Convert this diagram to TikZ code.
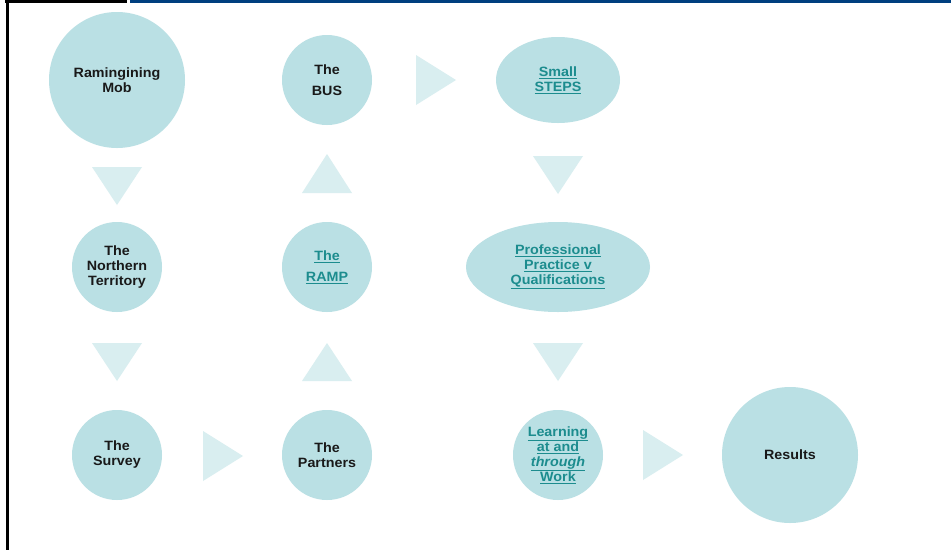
\documentclass[tikz,border=0pt]{standalone}
\usepackage{fontspec}
\setmainfont{Liberation Sans}[FakeStretch=1.06]
\usetikzlibrary{shapes.geometric}
\definecolor{circ}{RGB}{186,224,228}
\definecolor{tri}{RGB}{217,238,240}
\definecolor{linkc}{RGB}{28,140,142}
\definecolor{topblue}{RGB}{0,63,127}
\begin{document}
\begin{tikzpicture}[x=1pt,y=-1pt,
  bubble/.style={circle,fill=circ,inner sep=0pt,align=center,
    font=\fontsize{13.5}{15}\selectfont\bfseries,text=black!90},
  oval/.style={ellipse,fill=circ,inner sep=0pt,align=center,
    font=\fontsize{13.5}{15}\selectfont\bfseries},
  link/.style={text=linkc},
  arrowtri/.style={fill=tri}]
\useasboundingbox (0,0) rectangle (951,550);
\fill[white] (0,0) rectangle (951,550);
% frame lines
\fill[black] (5,0) rectangle (127,3);
\fill[topblue] (130,0) rectangle (951,3);
\fill[black] (6,0) rectangle (9,550);
% nodes
\node[bubble,minimum size=136] (mob) at (117,80) {Ramingining\\Mob};
\node[bubble,minimum size=90] (bus) at (327,80) {The\\[6pt]BUS};
\node[oval,minimum width=124,minimum height=86,link] (steps) at (558,80) {\underline{Small}\\\underline{STEPS}};
\node[bubble,minimum size=90] (nt) at (117,267) {The\\Northern\\Territory};
\node[bubble,minimum size=90,link] (ramp) at (327,267) {\underline{The}\\[6pt]\underline{RAMP}};
\node[oval,minimum width=184,minimum height=90,link] (ppq) at (558,267) {\underline{Professional}\\\underline{Practice v}\\\underline{Qualifications}};
\node[bubble,minimum size=90] (survey) at (117,455) {The\\Survey};
\node[bubble,minimum size=90] (partners) at (327,455) {The\\Partners};
\node[bubble,minimum size=90,link] (learn) at (558,455) {\underline{Learning}\\\underline{at and}\\\underline{\textit{through}}\\\underline{Work}};
\node[bubble,minimum size=136] (results) at (790,455) {Results};
% arrows (triangles)
\fill[arrowtri] (92,167) -- (142,167) -- (117,205) -- cycle;
\fill[arrowtri] (92,343) -- (142,343) -- (117,381) -- cycle;
\fill[arrowtri] (203,431) -- (203,481) -- (243,456) -- cycle;
\fill[arrowtri] (302,381) -- (352,381) -- (327,343) -- cycle;
\fill[arrowtri] (302,193) -- (352,193) -- (327,154) -- cycle;
\fill[arrowtri] (416,55) -- (416,105) -- (456,80) -- cycle;
\fill[arrowtri] (533,156) -- (583,156) -- (558,194) -- cycle;
\fill[arrowtri] (533,343) -- (583,343) -- (558,381) -- cycle;
\fill[arrowtri] (643,430) -- (643,480) -- (683,455) -- cycle;
\end{tikzpicture}
\end{document}
